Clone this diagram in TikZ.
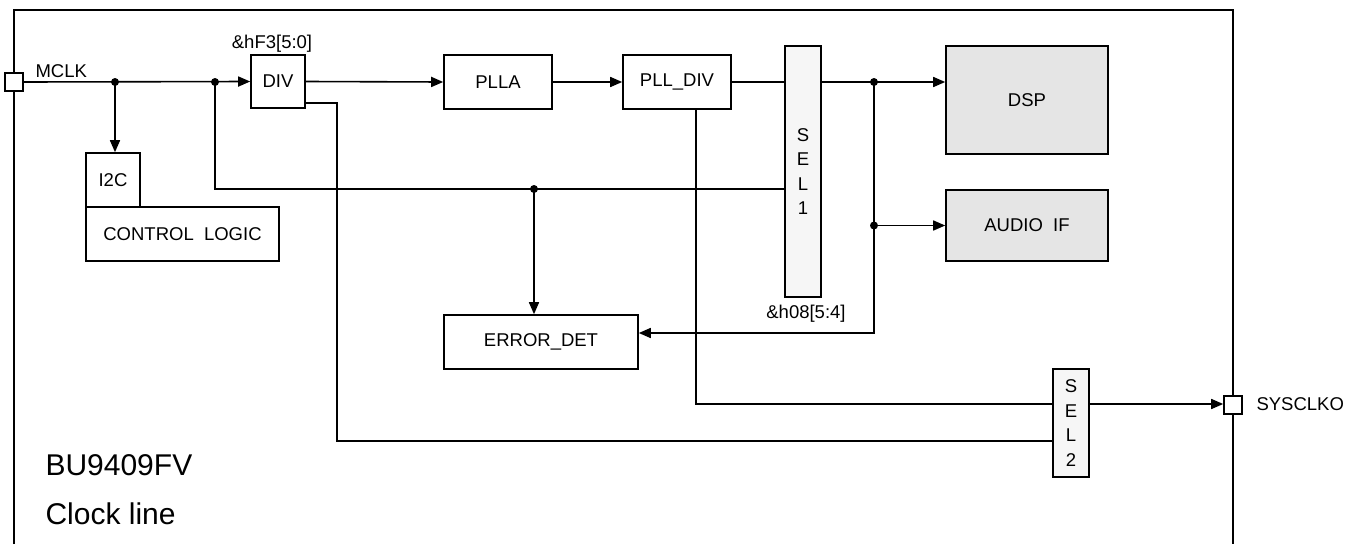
\documentclass[tikz,border=0pt]{standalone}
\usepackage{fontspec}
\setmainfont{Liberation Sans}
\usepackage{tikz}
\usetikzlibrary{arrows.meta}

\tikzset{
  bloque/.style={draw, line width=1.6pt, fill=white, minimum width=#1, inner sep=0pt},
  sel/.style={draw, line width=1.6pt, fill=gray!7, inner sep=0pt, align=center},
  pin/.style={draw, line width=1.6pt, fill=white, minimum size=18pt, inner sep=0pt},
  linea/.style={line width=1.6pt},
  flecha/.style={line width=1.6pt, -{Triangle[length=12pt,width=10pt]}},
  punto/.style={circle, fill, inner sep=0pt, minimum size=8pt},
}

\begin{document}
\begin{tikzpicture}[x=1pt, y=-1pt, font=\fontsize{18.5}{24.5}\selectfont]
  \useasboundingbox (0,0) rectangle (1358,544);
  % Marco
  \draw[linea] (14,544) -- (14,10) -- (1233,10) -- (1233,544);
  % Pines
  \node[pin] (mclk) at (14,82) {};
  \node[anchor=base west] at (32,77) {MCLK};
  \node[pin] (sysclko) at (1233,405) {};
  \node[anchor=west] (sysclkolbl) at (1253,404) {SYSCLKO};
  % Bloques
  \node[bloque=54pt, minimum height=53pt] (div) at (278,81.5) {DIV};
  \node at (272,44) {\&hF3[5:0]};
  \node[bloque=54pt, minimum height=54pt] (i2c) at (113,180) {I2C};
  \node[bloque=193pt, minimum height=54pt] (ctrl) at (182.5,234) {CONTROL\ \ LOGIC};
  \node[bloque=108pt, minimum height=54pt] (plla) at (498,82) {PLLA};
  \node[bloque=108pt, minimum height=54pt] (plldiv) at (677,82) {PLL\_DIV};
  \node[sel, minimum width=36pt, minimum height=251pt] (sel1) at (803,171.5) {S\\E\\L\\1};
  \node at (806,314) {\&h08[5:4]};
  \node[bloque=162pt, minimum height=108pt, fill=gray!20] (dsp) at (1027,100) {DSP};
  \node[bloque=162pt, minimum height=71pt, fill=gray!20] (audio) at (1027,225.5) {AUDIO\ \ IF};
  \node[bloque=194pt, minimum height=54pt] (errdet) at (541,342) {ERROR\_DET};
  \node[sel, minimum width=36pt, minimum height=108pt] (sel2) at (1071,423) {S\\E\\L\\2};
  % Nodos de union
  \coordinate (j1) at (115,82);
  \coordinate (j2) at (215,82);
  \coordinate (j3) at (534,189);
  \coordinate (j4) at (874,82);
  \coordinate (j5) at (874,225.5);
  % Conexiones
  \draw[flecha] (mclk.east) -- (div.west);
  \draw[flecha] (j1) -- (j1 |- i2c.north);
  \draw[linea] (j2) -- (215,189) -- (sel1.west |- j3);
  \draw[flecha] (j3) -- (j3 |- errdet.north);
  \draw[flecha] (div.east) -- (plla.west);
  \draw[flecha] (plla.east) -- (plldiv.west);
  \draw[linea] (plldiv.east) -- (sel1.west |- plldiv.east);
  \draw[linea] (sel1.east |- j4) -- (j4);
  \draw[flecha] (j4) -- (dsp.west |- j4);
  \draw[flecha] (j5) -- (audio.west);
  \draw[flecha] (j4) -- (874,333) -- (errdet.east |- 0,333);
  \draw[linea] (div.east |- 0,103) -- (337,103) -- (337,441) -- (sel2.west |- 0,441);
  \draw[linea] (696,109) -- (696,404) -- (sel2.west |- 0,404);
  \draw[flecha] (sel2.east |- 0,404) -- (sysclko.west |- 0,404);
  \foreach \p in {j1,j2,j3,j4,j5}
    \node[punto] at (\p) {};
  % Titulo
  \node[anchor=base west, font=\fontsize{30}{36}\selectfont] at (42,475) {BU9409FV};
  \node[anchor=base west, font=\fontsize{30}{36}\selectfont] at (42,524) {Clock line};
\end{tikzpicture}
\end{document}
